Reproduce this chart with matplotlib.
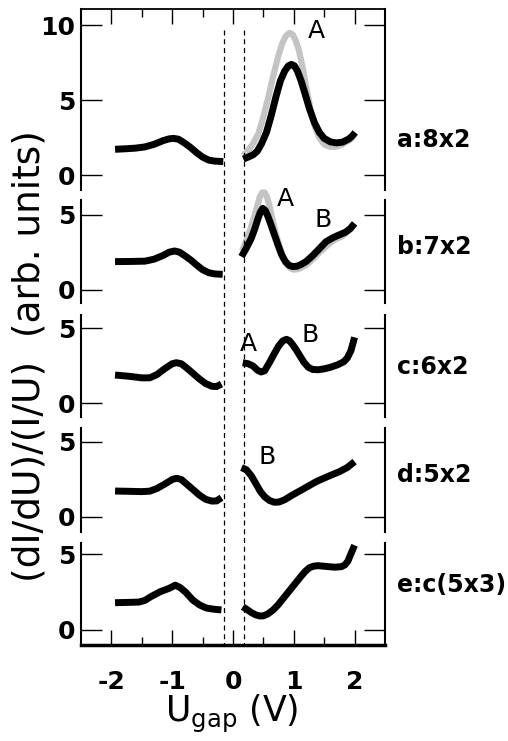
import numpy as np
import matplotlib
matplotlib.use('Agg')
import matplotlib.pyplot as plt
from matplotlib.lines import Line2D
from matplotlib.transforms import blended_transform_factory

plt.rcParams['font.family'] = 'DejaVu Sans'
plt.rcParams['axes.unicode_minus'] = False

# Oznake panela (rekonstrukcije)
oznake = ['a:8x2', 'b:7x2', 'c:6x2', 'd:5x2', 'e:c(5x3)']

# a: 8x2
a_neg_x = [-1.94, -1.75, -1.6, -1.45, -1.3, -1.15, -1.05, -0.98, -0.9, -0.8, -0.7, -0.6, -0.5,
           -0.4, -0.3, -0.16]
a_neg_y = [1.72, 1.76, 1.8, 1.88, 2.05, 2.3, 2.42, 2.45, 2.4, 2.15, 1.85, 1.5, 1.2,
           1.0, 0.93, 0.9]
a_pos_x = [0.17, 0.25, 0.33, 0.4, 0.47, 0.55, 0.63, 0.71, 0.78, 0.85, 0.91, 0.96, 1.01, 1.06,
           1.12, 1.18, 1.26, 1.34, 1.42, 1.5, 1.6, 1.7, 1.8, 1.9, 1.96, 2.01]
a_pos_y = [1.07, 1.2, 1.35, 1.6, 2.1, 2.85, 4.0, 5.29, 6.3, 6.95, 7.3, 7.4, 7.3, 6.95,
           6.3, 5.5, 4.4, 3.5, 2.85, 2.45, 2.22, 2.15, 2.2, 2.4, 2.6, 2.85]
a_siva_x = [0.17, 0.25, 0.33, 0.42, 0.5, 0.58, 0.66, 0.74, 0.81, 0.87, 0.93, 0.98, 1.03, 1.08,
            1.14, 1.2, 1.27, 1.34, 1.42, 1.5, 1.6, 1.7, 1.8, 1.9, 1.97]
a_siva_y = [1.3, 1.65, 2.1, 2.8, 3.9, 5.2, 6.6, 7.9, 8.8, 9.3, 9.5, 9.4, 9.0, 8.4,
            7.3, 5.95, 4.5, 3.3, 2.5, 2.05, 1.88, 1.9, 2.05, 2.3, 2.5]

# b: 7x2
b_neg_x = [-1.94, -1.7, -1.45, -1.3, -1.15, -1.05, -0.96, -0.88, -0.78, -0.68, -0.6, -0.5,
           -0.4, -0.3, -0.17]
b_neg_y = [1.89, 1.9, 1.92, 2.05, 2.3, 2.52, 2.6, 2.52, 2.25, 1.95, 1.67, 1.35,
           1.15, 1.07, 1.04]
b_pos_x = [0.14, 0.22, 0.3, 0.36, 0.41, 0.45, 0.49, 0.53, 0.57, 0.62, 0.68, 0.74, 0.8, 0.86,
           0.92, 0.98, 1.05, 1.12, 1.2, 1.3, 1.42, 1.53, 1.65, 1.75, 1.85, 1.93, 2.0]
b_pos_y = [2.22, 2.8, 3.44, 4.1, 4.75, 5.2, 5.44, 5.3, 4.95, 4.4, 3.7, 3.0, 2.35, 1.9,
           1.65, 1.56, 1.58, 1.7, 1.89, 2.25, 2.75, 3.22, 3.5, 3.68, 3.85, 4.1, 4.44]
b_siva_x = [0.15, 0.22, 0.29, 0.35, 0.4, 0.44, 0.48, 0.52, 0.56, 0.6, 0.65, 0.7, 0.76, 0.82,
            0.88, 0.94, 1.0, 1.08, 1.2, 1.3, 1.42, 1.53, 1.65, 1.8, 1.92, 2.0]
b_siva_y = [2.6, 3.3, 4.1, 4.9, 5.6, 6.2, 6.5, 6.5, 6.2, 5.6, 4.7, 3.8, 3.0, 2.2,
            1.75, 1.45, 1.35, 1.4, 1.65, 2.0, 2.5, 2.9, 3.3, 3.6, 4.0, 4.4]

# c: 6x2
c_neg_x = [-1.94, -1.7, -1.5, -1.37, -1.25, -1.12, -1.0, -0.93, -0.85, -0.75, -0.65, -0.55,
           -0.45, -0.35, -0.27, -0.19]
c_neg_y = [1.87, 1.78, 1.68, 1.68, 1.9, 2.3, 2.62, 2.69, 2.62, 2.3, 1.95, 1.6,
           1.3, 1.12, 1.1, 1.27]
c_pos_x = [0.16, 0.25, 0.33, 0.4, 0.46, 0.52, 0.6, 0.68, 0.75, 0.82, 0.88, 0.93, 0.98, 1.04,
           1.1, 1.17, 1.24, 1.31, 1.4, 1.5, 1.6, 1.72, 1.82, 1.88, 1.94, 2.0]
c_pos_y = [2.69, 2.62, 2.47, 2.2, 2.07, 2.15, 2.7, 3.3, 3.8, 4.15, 4.25, 4.15, 3.9, 3.55,
           3.15, 2.7, 2.38, 2.24, 2.22, 2.28, 2.38, 2.55, 2.75, 3.0, 3.5, 4.38]

# d: 5x2
d_neg_x = [-1.94, -1.7, -1.5, -1.37, -1.25, -1.12, -1.0, -0.93, -0.85, -0.75, -0.65, -0.55,
           -0.45, -0.35, -0.27, -0.19]
d_neg_y = [1.73, 1.71, 1.69, 1.72, 1.9, 2.2, 2.5, 2.58, 2.5, 2.15, 1.8, 1.45,
           1.18, 1.06, 1.07, 1.29]
d_pos_x = [0.14, 0.22, 0.3, 0.38, 0.45, 0.52, 0.6, 0.68, 0.76, 0.85, 0.98, 1.17, 1.37, 1.56,
           1.75, 1.88, 2.0]
d_pos_y = [3.29, 3.15, 2.75, 2.2, 1.7, 1.35, 1.1, 0.98, 1.0, 1.15, 1.47, 1.9, 2.36, 2.7,
           3.02, 3.3, 3.69]

# e: c(5x3)
e_neg_x = [-1.94, -1.72, -1.55, -1.45, -1.35, -1.2, -1.05, -0.95, -0.87, -0.78, -0.66, -0.55,
           -0.44, -0.32, -0.19]
e_neg_y = [1.8, 1.82, 1.84, 1.95, 2.2, 2.52, 2.75, 2.96, 2.8, 2.5, 1.97, 1.65,
           1.45, 1.37, 1.32]
e_pos_x = [0.16, 0.23, 0.3, 0.37, 0.44, 0.5, 0.57, 0.66, 0.74, 0.82, 0.9, 0.98, 1.05, 1.12,
           1.19, 1.26, 1.33, 1.4, 1.53, 1.67, 1.78, 1.84, 1.89, 1.94, 2.0]
e_pos_y = [1.53, 1.35, 1.15, 1.0, 0.92, 0.93, 1.05, 1.32, 1.65, 2.05, 2.45, 2.85, 3.2, 3.55,
           3.88, 4.12, 4.22, 4.25, 4.2, 4.15, 4.18, 4.3, 4.55, 5.04, 5.6]

krivulje = [(a_neg_x, a_neg_y, a_pos_x, a_pos_y),
            (b_neg_x, b_neg_y, b_pos_x, b_pos_y),
            (c_neg_x, c_neg_y, c_pos_x, c_pos_y),
            (d_neg_x, d_neg_y, d_pos_x, d_pos_y),
            (e_neg_x, e_neg_y, e_pos_x, e_pos_y)]
sive = {0: (a_siva_x, a_siva_y), 1: (b_siva_x, b_siva_y)}

# oznake vrhova: (panel, x, y, tekst)
vrhovi = [(0, 1.37, 9.6, 'A'), (1, 0.86, 6.07, 'A'), (1, 1.49, 4.67, 'B'),
          (2, 0.26, 3.93, 'A'), (2, 1.27, 4.53, 'B'), (3, 0.56, 3.97, 'B')]
oznake_y = [2.33, 2.87, 2.4, 2.8, 2.96]
y_granice = [(-1.0, 11.1), (-0.87, 6.0), (-0.93, 5.87), (-1.0, 5.93), (-1.0, 5.75)]
y_tickovi = [[0, 5, 10], [0, 5], [0, 5], [0, 5], [0, 5]]
procjep = [-0.15, 0.18]

W, H = 508, 741
fig = plt.figure(figsize=(W / 100, H / 100), dpi=100)

# polozaj panela u pikselima (gore, dolje)
okviri = [(9, 190), (200, 303), (315, 417), (428, 532), (543, 645)]
lijevo, desno = 81, 385

osi = []
for i, (gore, dolje) in enumerate(okviri):
    ax = fig.add_axes([lijevo / W, 1 - dolje / H, (desno - lijevo) / W, (dolje - gore) / H])
    osi.append(ax)

    if i in sive:
        sx, sy = sive[i]
        ax.plot(sx, sy, color='#c4c4c4', lw=4.5, solid_capstyle='butt',
                solid_joinstyle='round', clip_on=False, zorder=2)
    nx, ny, px, py = krivulje[i]
    ax.plot(nx, ny, 'k-', lw=5, solid_capstyle='butt', solid_joinstyle='round', zorder=3)
    ax.plot(px, py, 'k-', lw=5, solid_capstyle='butt', solid_joinstyle='round', zorder=3)

    ax.set_xlim(-2.5, 2.5)
    ax.set_ylim(*y_granice[i])
    ax.set_xticks([-2, -1, 0, 1, 2])
    ax.set_xticks([-1.5, -0.5, 0.5, 1.5], minor=True)
    ax.set_yticks(y_tickovi[i])
    ax.set_yticklabels([str(t) for t in y_tickovi[i]], fontweight='bold', fontsize=18)
    ax.tick_params(axis='y', direction='in', left=True, right=True, length=15, width=1, pad=4)

    ax.spines['left'].set_linewidth(1.5)
    ax.spines['right'].set_linewidth(1.5)
    ax.spines['top'].set_visible(i == 0)
    ax.spines['bottom'].set_visible(i == 4)
    ax.spines['top'].set_linewidth(1.3)
    ax.spines['bottom'].set_linewidth(2.5)

    ax.tick_params(axis='x', which='both', direction='in', top=(i == 0), bottom=(i == 4),
                   labelbottom=(i == 4), width=1)
    ax.tick_params(axis='x', which='major', length=11, pad=18)
    ax.tick_params(axis='x', which='minor', length=6)
    if i == 4:
        ax.set_xticklabels(['-2', '-1', '0', '1', '2'], fontweight='bold', fontsize=18)

    ax.text(1.04, oznake_y[i], oznake[i], transform=ax.get_yaxis_transform(),
            fontsize=17, fontweight='bold', ha='left', va='center')

for (i, x, y, t) in vrhovi:
    osi[i].text(x, y, t, fontsize=18, ha='center', va='center', zorder=4)

# isprekidane linije preko svih panela
tr = blended_transform_factory(osi[4].transData, fig.transFigure)
for x0 in procjep:
    fig.add_artist(Line2D([x0, x0], [1 - 30 / H, 1 - 645 / H], transform=tr, color='k',
                          lw=0.9, dashes=(4, 3)))

fig.text(30 / W, 1 - 356 / H, '(dI/dU)/(I/U)  (arb. units)', rotation=90,
         fontsize=27, ha='center', va='center')
fig.text(232 / W, 1 - 722 / H, r'U$_{\rm gap}$ (V)', fontsize=25, ha='center', va='baseline')

fig.savefig('out.png', dpi=100)
